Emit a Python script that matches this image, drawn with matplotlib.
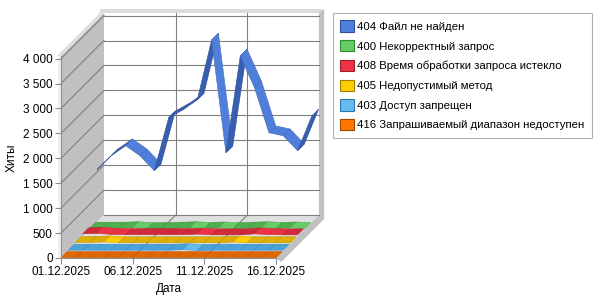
import matplotlib
matplotlib.use('Agg')
import matplotlib.pyplot as plt
import numpy as np
from matplotlib.patches import Polygon, Patch
from matplotlib.colors import to_rgb

plt.rcParams['font.family'] = ['Liberation Sans', 'DejaVu Sans']
plt.rcParams['font.size'] = 8

# data (hits per day, 01.12.2025 .. 16.12.2025)
days = np.arange(16)
date_ticks = [0, 5, 10, 15]
date_labels = ['01.12.2025', '06.12.2025', '11.12.2025', '16.12.2025']

s404 = [1050, 1330, 1530, 1330, 1030, 2090, 2250, 2450, 3650, 1390, 3330, 2690, 1790, 1730, 1430, 2130]
s400 = [20, 20, 20, 30, 10, 10, 20, 30, 15, 25, 10, 20, 30, 15, 25, 10]
s408 = [50, 60, 40, 35, 35, 35, 35, 35, 45, 30, 30, 30, 50, 35, 30, 30]
s405 = [20, 22, 32, 15, 15, 15, 15, 15, 15, 15, 15, 30, 15, 15, 15, 15]
s403 = [10, 10, 10, 10, 10, 10, 10, 10, 20, 5, 10, 10, 10, 10, 10, 10]
s416 = [5, 5, 5, 5, 5, 5, 5, 5, 5, 5, 5, 5, 5, 5, 5, 5]

# back to front (legend order)
series = [
    ('404 Файл не найден', s404, '#4f7fdb', '#4470cc', '#2f4f99'),
    ('400 Некорректный запрос', s400, '#66cc66', '#4fb04f', '#2f8f2f'),
    ('408 Время обработки запроса истекло', s408, '#ee3344', '#d22a3a', '#991f2a'),
    ('405 Недопустимый метод', s405, '#ffcc00', '#e0b000', '#a08000'),
    ('403 Доступ запрещен', s403, '#66bbee', '#4aa2da', '#2f78a8'),
    ('416 Запрашиваемый диапазон недоступен', s416, '#ff7700', '#e06600', '#a04800'),
]

ymax = 4050
ddx, ddy = 3.0, 863   # depth offset in data units
px_x, px_y = 14.33, 0.04985  # pixels per unit
t = 0.28  # wall thickness (days)
ty = 80

fig = plt.figure(figsize=(6, 3), dpi=100)
ax = fig.add_axes([61/600, 42/300, 266/600, 250/300])
ax.set_xlim(0, 266/px_x)
ax.set_ylim(0, 250/px_y)
ax.patch.set_visible(False)

def poly(pts, fc, ec='none', lw=0, z=1):
    ax.add_patch(Polygon(pts, closed=True, facecolor=fc, edgecolor=ec, lw=lw, zorder=z, clip_on=False))

# left wall + edges
poly([(0, 0), (0, ymax), (ddx, ymax+ddy), (ddx, ddy)], '#c0c0c0')
poly([(-t, ymax), (0, ymax), (ddx, ymax+ddy), (ddx-t, ymax+ddy)], '#dcdcdc')
poly([(-t*0.7, 0), (0, 0), (0, ymax), (-t*0.7, ymax)], '#f0f0f0')
# back wall
poly([(ddx, ddy), (15+ddx, ddy), (15+ddx, ymax+ddy), (ddx, ymax+ddy)], 'white')
poly([(ddx-t, ymax+ddy), (15+ddx+t, ymax+ddy), (15+ddx+t, ymax+ddy+ty), (ddx-t+0.0, ymax+ddy+ty)], '#dcdcdc')
poly([(15+ddx, ddy-ty), (15+ddx+t*1.3, ddy-ty), (15+ddx+t*1.3, ymax+ddy+ty), (15+ddx, ymax+ddy)], '#c0c0c0')
# floor
poly([(0, 0), (15, 0), (15+ddx, ddy), (ddx, ddy)], '#e0e0e0')
poly([(15, 0), (15+ddx, ddy), (15+ddx+t*1.3, ddy-ty), (15+t*1.3, -ty)], '#c0c0c0')

# grid
gc = '#808080'
for v in range(0, 4001, 500):
    ax.plot([ddx, 15+ddx], [v+ddy, v+ddy], color=gc, lw=0.8, zorder=2, clip_on=False)
    if v > 0:
        ax.plot([0, ddx], [v, v+ddy], color=gc, lw=0.8, zorder=2, clip_on=False)
for d in [5, 10]:
    ax.plot([d+ddx, d+ddx], [ddy, ymax+ddy], color=gc, lw=0.8, zorder=2, clip_on=False)
    ax.plot([d, d+ddx], [0, ddy], color=gc, lw=0.8, zorder=2, clip_on=False)

def shade(light, base, dark, s):
    l, b, d = np.array(to_rgb(light)), np.array(to_rgb(base)), np.array(to_rgb(dark))
    if s < 0:
        k = min(1, -s/0.02)
        return b + (l-b)*k
    k = min(1, s/0.5) * 0.55
    return b + (d-b)*k

# ribbons, back to front
n = len(series)
for k, (name, vals, light, base, dark) in enumerate(series):
    slot = n-1-k
    f0 = (slot+0.02)/n
    f1 = (slot+(0.97 if slot == n-1 else 0.85))/n
    vals = np.array(vals, float)
    for i in range(len(days)-1):
        x0, x1 = days[i], days[i+1]
        y0, y1 = vals[i], vals[i+1]
        s = (y1-y0)*px_y/px_x
        c = shade(light, base, dark, s)
        pts = [(x0+ddx*f0, y0+ddy*f0), (x1+ddx*f0, y1+ddy*f0),
               (x1+ddx*f1, y1+ddy*f1), (x0+ddx*f1, y0+ddy*f1)]
        poly(pts, c, ec=c*0.85, lw=0.4, z=3+k)

# axes
for sp in ['top', 'right']:
    ax.spines[sp].set_visible(False)
ax.spines['left'].set_bounds(0, ymax)
ax.spines['bottom'].set_bounds(0, 15)
ax.spines['left'].set_color('#909090')
ax.spines['bottom'].set_color('#909090')
ax.spines['left'].set_zorder(20)
ax.spines['bottom'].set_zorder(20)
ax.set_yticks(range(0, 4001, 500))
ax.set_yticklabels(['{:,}'.format(v).replace(',', ' ') for v in range(0, 4001, 500)])
ax.set_xticks(date_ticks)
ax.set_xticklabels(date_labels)
ax.tick_params(axis='y', length=4, color='#909090', pad=2, labelsize=8.5)
ax.tick_params(axis='x', length=4, color='#909090', pad=2, labelsize=8.5)
ax.set_xlabel('Дата', fontsize=8.5)
ax.xaxis.set_label_coords(108/266, -0.1)
fig.text(12/600, 1-158/300, 'Хиты', rotation=90, ha='center', va='center', fontsize=8.5)

handles = [Patch(facecolor=s[2], edgecolor=s[4], lw=0.8) for s in series]
leg = fig.legend(handles, [s[0] for s in series], loc='upper left',
                 bbox_to_anchor=(333/600, 1-13/300), fancybox=False,
                 edgecolor='#a0a0a0', fontsize=8.2, handlelength=1.15, handleheight=1.15,
                 handletextpad=0.3, labelspacing=0.72, borderpad=0.65, borderaxespad=0)
leg.get_frame().set_linewidth(0.8)

fig.savefig('out.png', dpi=100)
